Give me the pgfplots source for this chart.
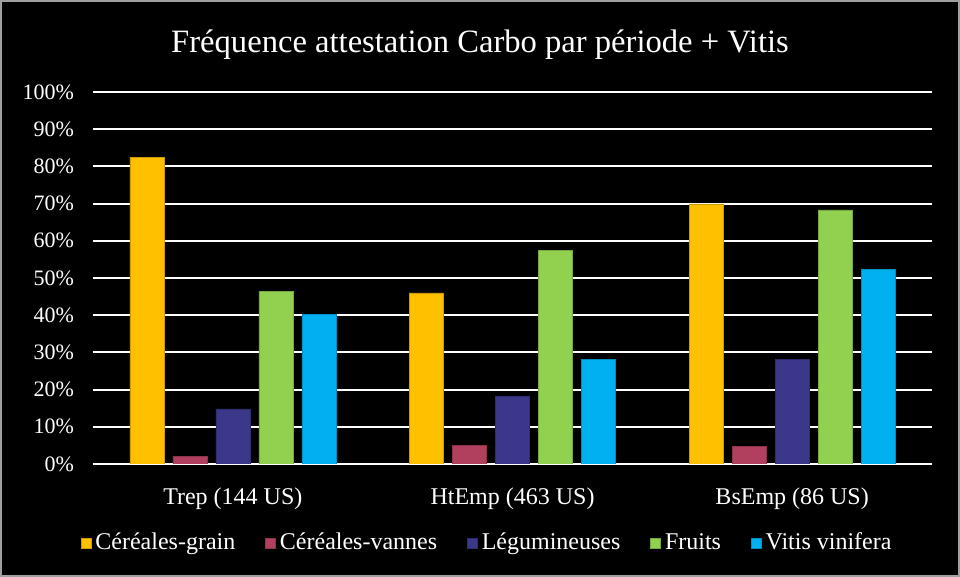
\documentclass[border=0pt]{standalone}
\usepackage{pgfplots}
\pgfplotsset{compat=1.18}
\usepackage{fontspec}
\setmainfont{Liberation Serif}

\definecolor{cgrain}{HTML}{FFC000}
\definecolor{cvannes}{HTML}{B0405E}
\definecolor{cleg}{HTML}{3B3889}
\definecolor{cfruits}{HTML}{92D050}
\definecolor{cvitis}{HTML}{00B0F0}

\begin{document}
\begin{tikzpicture}[x=1pt,y=1pt]
% fond noir et cadre
\fill[black] (0,0) rectangle (480,288.5);
\draw[gray!75, line width=1pt] (0.5,0.5) rectangle (479.5,288);
\node[white, font=\fontsize{16.3}{19}\selectfont] at (240,266.3) {Fréquence attestation Carbo par période + Vitis};

\begin{axis}[
    at={(46.5pt,56.5pt)}, anchor=south west,
    scale only axis, width=419.5pt, height=186pt,
    ybar=4.5pt, bar width=17pt,
    xmin=-0.5, xmax=2.5, ymin=0, ymax=100,
    xtick={0,1,2},
    xticklabels={Trep (144 US), HtEmp (463 US), BsEmp (86 US)},
    ytick={0,10,...,100},
    yticklabel={\pgfmathprintnumber{\tick}\%},
    axis x line*=bottom, axis y line*=left,
    x axis line style={white, line width=1.3pt, -},
    y axis line style={draw=none},
    tick style={draw=none},
    ymajorgrids, major grid style={white, line width=1pt},
    yticklabel style={white, font=\fontsize{11}{13}\selectfont, xshift=-6pt},
    xticklabel style={white, font=\fontsize{12}{14}\selectfont, yshift=-4pt},
    /pgf/number format/assume math mode=true,
    legend columns=5,
    legend style={at={(0.471,-0.212)}, anchor=center, draw=none, fill=none,
        text=white, font=\fontsize{12}{14}\selectfont,
        /tikz/every even column/.append style={column sep=13pt}},
    legend image code/.code={\fill[#1] (0pt,-2.5pt) rectangle (5pt,2.5pt);},
]
% Céréales-grain
\addplot[fill=cgrain, draw=cgrain!80!black, line width=0.3pt] coordinates {(0,82.5) (1,46.0) (2,69.9)};
% Céréales-vannes
\addplot[fill=cvannes, draw=cvannes!80!black, line width=0.3pt] coordinates {(0,2.1) (1,5.1) (2,4.8)};
% Légumineuses
\addplot[fill=cleg, draw=cleg!80!black, line width=0.3pt] coordinates {(0,14.8) (1,18.3) (2,28.2)};
% Fruits
\addplot[fill=cfruits, draw=cfruits!80!black, line width=0.3pt] coordinates {(0,46.5) (1,57.5) (2,68.3)};
% Vitis vinifera
\addplot[fill=cvitis, draw=cvitis!80!black, line width=0.3pt] coordinates {(0,40.3) (1,28.2) (2,52.4)};
\legend{Céréales-grain, Céréales-vannes, Légumineuses, Fruits, Vitis vinifera}
\end{axis}
\end{tikzpicture}
\end{document}
